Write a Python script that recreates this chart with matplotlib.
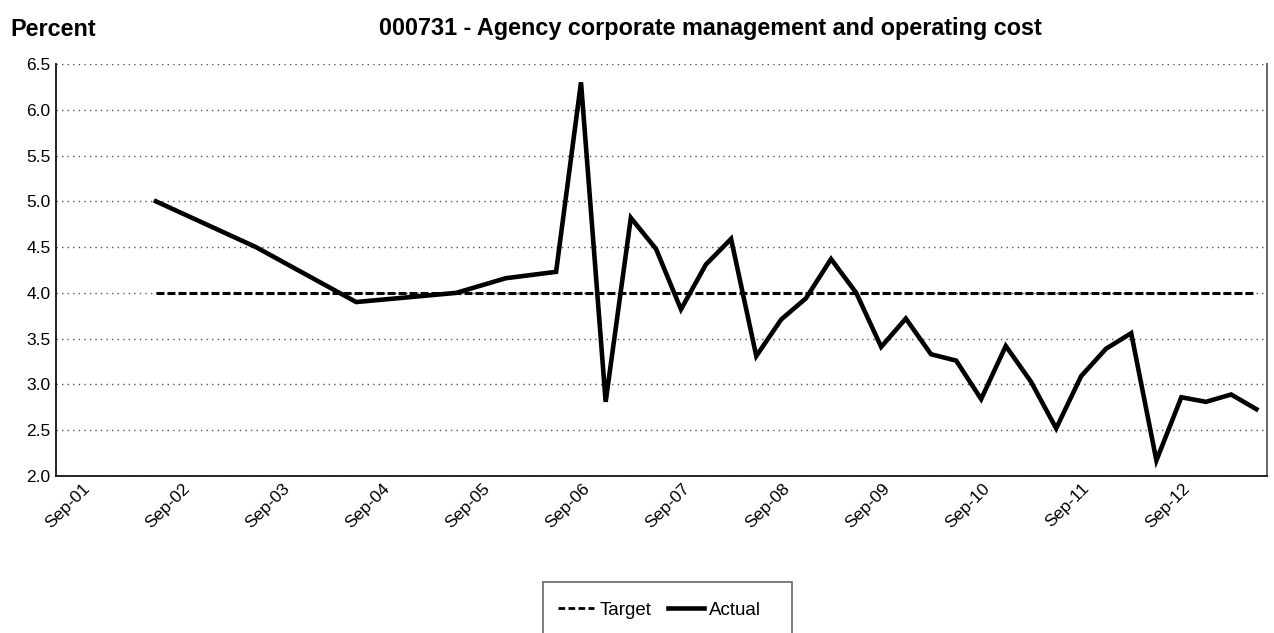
import matplotlib
matplotlib.use("Agg")
import matplotlib.pyplot as plt
import matplotlib.transforms as mtransforms
from matplotlib.patches import Rectangle
from matplotlib.lines import Line2D
import pandas as pd

plt.rcParams['font.family'] = ['Liberation Sans', 'DejaVu Sans']

# ---------------- data ----------------
actual_dates = ["2002-09-01", "2003-09-01", "2004-09-01", "2005-09-01",
                "2006-03-01", "2006-09-01", "2006-12-01",
                "2007-03-01", "2007-06-01", "2007-09-01", "2007-12-01",
                "2008-03-01", "2008-06-01", "2008-09-01", "2008-12-01",
                "2009-03-01", "2009-06-01", "2009-09-01", "2009-12-01",
                "2010-03-01", "2010-06-01", "2010-09-01", "2010-12-01",
                "2011-03-01", "2011-06-01", "2011-09-01", "2011-12-01",
                "2012-03-01", "2012-06-01", "2012-09-01", "2012-12-01",
                "2013-03-01", "2013-06-01", "2013-09-01"]
actual_values = [5.00, 4.50, 3.90, 4.00,
                 4.16, 4.23, 6.30,
                 2.81, 4.82, 4.48, 3.82,
                 4.31, 4.59, 3.31, 3.71,
                 3.94, 4.37, 4.00, 3.41,
                 3.72, 3.33, 3.26, 2.84,
                 3.42, 3.03, 2.52, 3.09,
                 3.39, 3.56, 2.17, 2.86,
                 2.81, 2.89, 2.73]
target_value = 4.0

tick_dates = ["2001-09-01", "2002-09-01", "2003-09-01", "2004-09-01",
              "2005-09-01", "2006-09-01", "2007-09-01", "2008-09-01",
              "2009-09-01", "2010-09-01", "2011-09-01", "2012-09-01"]
tick_labels = ["Sep-01", "Sep-02", "Sep-03", "Sep-04", "Sep-05", "Sep-06",
               "Sep-07", "Sep-08", "Sep-09", "Sep-10", "Sep-11", "Sep-12"]
y_ticks = [2.0, 2.5, 3.0, 3.5, 4.0, 4.5, 5.0, 5.5, 6.0, 6.5]

title_text = "000731 - Agency corporate management and operating cost"
unit_text = "Percent"

# ---------------- figure ----------------
W, H = 1274, 633
fig = plt.figure(figsize=(W / 100, H / 100), dpi=100)
ax = fig.add_axes([56 / W, 1 - 476 / H, (1266.5 - 56) / W, (476 - 64) / H])

x_act = pd.to_datetime(actual_dates)
x_tgt = x_act
y_tgt = [target_value] * len(x_tgt)

ax.plot(x_tgt, y_tgt, color="black", lw=2.2, linestyle=(0, (2.6, 1.0)),
        solid_capstyle="butt", dash_capstyle="butt", zorder=3)
ax.plot(x_act, actual_values, color="black", lw=3.3,
        solid_joinstyle="miter", zorder=4)

ax.set_xlim(pd.Timestamp("2001-09-01"), pd.Timestamp("2013-10-08"))
ax.set_ylim(2.0, 6.5)
ax.set_yticks(y_ticks)
ax.set_yticklabels([f"{v:.1f}" for v in y_ticks])
ax.yaxis.grid(True, color="#555555", linestyle=(0, (1, 3)), lw=1.0)
ax.set_axisbelow(True)

ax.set_xticks(pd.to_datetime(tick_dates))
ax.set_xticklabels(tick_labels, rotation=45, ha="right", va="center",
                   rotation_mode="anchor")
ax.tick_params(axis="x", length=0, pad=7, labelsize=12.5)
ax.tick_params(axis="y", length=0, pad=4, labelsize=12.5)
offset = mtransforms.ScaledTranslation(0.31, 0, fig.dpi_scale_trans)
for lab in ax.get_xticklabels():
    lab.set_transform(lab.get_transform() + offset)

ax.spines["top"].set_visible(False)
for s in ["left", "bottom"]:
    ax.spines[s].set_color("#222222")
    ax.spines[s].set_linewidth(1.4)
ax.spines["right"].set_color("#666666")
ax.spines["right"].set_linewidth(1.4)

# titles
fig.text(10 / W, 1 - 29 / H, unit_text, fontsize=16.8, fontweight="bold",
         ha="left", va="center")
fig.text(710 / W, 1 - 29 / H, title_text, fontsize=16.8, fontweight="bold",
         ha="center", va="center")

# legend box
fig.patches.append(Rectangle((543 / W, 1 - 660 / H), (792 - 543) / W, (660 - 582) / H,
                             transform=fig.transFigure, facecolor="white",
                             edgecolor="#666666", lw=1.2))
handles = [Line2D([], [], color="black", lw=2.0, linestyle=(0, (2.4, 1.2))),
           Line2D([], [], color="black", lw=3.3)]
leg = fig.legend(handles, ["Target", "Actual"], loc="center left",
                 bbox_to_anchor=(545 / W, 1 - 610 / H), ncol=2, frameon=False,
                 fontsize=13.5, handlelength=1.9, handletextpad=0.3,
                 columnspacing=0.9, borderpad=0.2)

fig.savefig("out.png", dpi=100)
